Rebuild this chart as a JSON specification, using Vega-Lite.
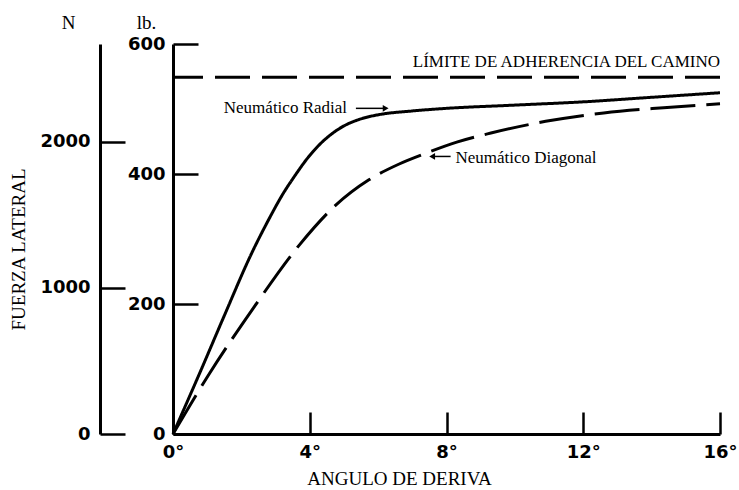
{
  "$schema": "https://vega.github.io/schema/vega-lite/v6.json",
  "width": 547,
  "height": 390,
  "autosize": {"type": "none"},
  "padding": {"left": 173, "top": 44, "right": 19, "bottom": 56},
  "background": "white",
  "datasets": {
    "curves": [
      {"serie": "Radial", "deg": 0, "lb": 0},
      {"serie": "Radial", "deg": 0.8, "lb": 96},
      {"serie": "Radial", "deg": 1.5, "lb": 182},
      {"serie": "Radial", "deg": 2.3, "lb": 278},
      {"serie": "Radial", "deg": 2.8, "lb": 330},
      {"serie": "Radial", "deg": 3.2, "lb": 368},
      {"serie": "Radial", "deg": 3.6, "lb": 400},
      {"serie": "Radial", "deg": 3.9, "lb": 422},
      {"serie": "Radial", "deg": 4.3, "lb": 446},
      {"serie": "Radial", "deg": 4.65, "lb": 462},
      {"serie": "Radial", "deg": 5.0, "lb": 474},
      {"serie": "Radial", "deg": 5.45, "lb": 484},
      {"serie": "Radial", "deg": 5.8, "lb": 489},
      {"serie": "Radial", "deg": 6.1, "lb": 492},
      {"serie": "Radial", "deg": 7, "lb": 497},
      {"serie": "Radial", "deg": 8, "lb": 501},
      {"serie": "Radial", "deg": 10, "lb": 506},
      {"serie": "Radial", "deg": 12, "lb": 511},
      {"serie": "Radial", "deg": 14, "lb": 518},
      {"serie": "Radial", "deg": 16, "lb": 525},
      {"serie": "Diagonal", "deg": 0, "lb": 0},
      {"serie": "Diagonal", "deg": 1.03, "lb": 90},
      {"serie": "Diagonal", "deg": 2.34, "lb": 193},
      {"serie": "Diagonal", "deg": 3.7, "lb": 291},
      {"serie": "Diagonal", "deg": 4.76, "lb": 352},
      {"serie": "Diagonal", "deg": 5.73, "lb": 391},
      {"serie": "Diagonal", "deg": 6.6, "lb": 415},
      {"serie": "Diagonal", "deg": 7.4, "lb": 432},
      {"serie": "Diagonal", "deg": 8.3, "lb": 449},
      {"serie": "Diagonal", "deg": 9.3, "lb": 463},
      {"serie": "Diagonal", "deg": 10.9, "lb": 481},
      {"serie": "Diagonal", "deg": 12.6, "lb": 494},
      {"serie": "Diagonal", "deg": 14.35, "lb": 502},
      {"serie": "Diagonal", "deg": 16, "lb": 508}
    ]
  },
  "resolve": {"axis": {"y": "independent"}},
  "layer": [
    {
      "data": {"name": "curves"},
      "mark": {"type": "line", "color": "black", "strokeWidth": 3, "interpolate": "monotone"},
      "encoding": {
        "x": {
          "field": "deg", "type": "quantitative",
          "scale": {"domain": [0, 16], "nice": false, "zero": false},
          "axis": {
            "values": [0, 4, 8, 12, 16],
            "labelExpr": "datum.value + '°'",
            "labelFlush": false,
            "tickSize": -22,
            "labelPadding": 31,
            "labelBaseline": "top",
            "title": "ANGULO DE DERIVA",
            "titleX": 226,
            "titleY": 44,
            "titleAlign": "center",
            "titleBaseline": "middle",
            "titleAngle": 0
          }
        },
        "y": {
          "field": "lb", "type": "quantitative",
          "scale": {"domain": [0, 600], "nice": false},
          "axis": {
            "orient": "left",
            "values": [0, 200, 400, 600],
            "tickSize": -25,
            "labelPadding": 33,
            "title": "lb.",
            "titleAngle": 0,
            "titleX": -27,
            "titleY": -22,
            "titleAlign": "center",
            "titleBaseline": "middle"
          }
        },
        "detail": {"field": "serie"},
        "strokeDash": {
          "field": "serie", "type": "nominal",
          "scale": {"domain": ["Radial", "Diagonal"], "range": [[1, 0], [45, 11]]},
          "legend": null
        }
      }
    },
    {
      "data": {"values": [{"lb": 549}]},
      "mark": {"type": "rule", "color": "black", "strokeWidth": 3, "strokeDash": [35, 12]},
      "encoding": {
        "y": {
          "field": "lb", "type": "quantitative",
          "scale": {"domain": [0, 600], "nice": false},
          "axis": {
            "orient": "left",
            "offset": 73,
            "values": [0, 224.8, 449.6],
            "labelExpr": "datum.value == 0 ? '0' : format(round(datum.value * 4.448222 / 1000) * 1000, 'd')",
            "tickSize": -25,
            "labelPadding": 35,
            "title": "N",
            "titleAngle": 0,
            "titleX": -32,
            "titleY": -22,
            "titleAlign": "center",
            "titleBaseline": "middle"
          }
        }
      }
    },
    {
      "data": {"values": [
        {"texto": "LÍMITE DE ADHERENCIA DEL CAMINO", "deg": 16, "lb": 572},
        {"texto": "Neumático Radial", "deg": 5.09, "lb": 501}
      ]},
      "mark": {"type": "text", "align": "right", "baseline": "middle", "font": "Liberation Serif", "fontSize": 17, "color": "black"},
      "encoding": {
        "x": {"field": "deg", "type": "quantitative"},
        "y": {
          "field": "lb", "type": "quantitative",
          "scale": {"domain": [0, 600], "nice": false},
          "axis": {
            "orient": "left",
            "domain": false,
            "ticks": false,
            "labels": false,
            "title": "FUERZA LATERAL",
            "titleAngle": -90,
            "titleX": -155,
            "titleY": 205,
            "titleAlign": "center",
            "titleBaseline": "middle"
          }
        },
        "text": {"field": "texto"}
      }
    },
    {
      "data": {"values": [
        {"texto": "Neumático Diagonal", "deg": 8.26, "lb": 424}
      ]},
      "mark": {"type": "text", "align": "left", "baseline": "middle", "font": "Liberation Serif", "fontSize": 17, "color": "black"},
      "encoding": {
        "x": {"field": "deg", "type": "quantitative"},
        "y": {"field": "lb", "type": "quantitative", "scale": {"domain": [0, 600], "nice": false}, "axis": null},
        "text": {"field": "texto"}
      }
    },
    {
      "data": {"values": [
        {"deg": 5.35, "deg2": 6.2, "lb": 501},
        {"deg": 8.12, "deg2": 7.6, "lb": 427}
      ]},
      "mark": {"type": "rule", "color": "black", "strokeWidth": 1.5},
      "encoding": {
        "x": {"field": "deg", "type": "quantitative"},
        "x2": {"field": "deg2"},
        "y": {"field": "lb", "type": "quantitative", "scale": {"domain": [0, 600], "nice": false}, "axis": null}
      }
    },
    {
      "data": {"values": [
        {"deg": 6.22, "lb": 501, "forma": "triangle-right"},
        {"deg": 7.58, "lb": 427, "forma": "triangle-left"}
      ]},
      "mark": {"type": "point", "filled": true, "color": "black", "size": 45, "opacity": 1},
      "encoding": {
        "x": {"field": "deg", "type": "quantitative"},
        "y": {"field": "lb", "type": "quantitative", "scale": {"domain": [0, 600], "nice": false}, "axis": null},
        "shape": {"field": "forma", "type": "nominal", "scale": null, "legend": null}
      }
    }
  ],
  "config": {
    "view": {"stroke": null},
    "axis": {
      "grid": false,
      "domainColor": "black",
      "domainWidth": 3,
      "tickColor": "black",
      "tickWidth": 2.5,
      "labelColor": "black",
      "labelFont": "DejaVu Sans",
      "labelFontSize": 18,
      "labelFontWeight": "bold",
      "titleFont": "Liberation Serif",
      "titleFontSize": 19,
      "titleFontWeight": "normal",
      "titleColor": "black"
    }
  }
}
